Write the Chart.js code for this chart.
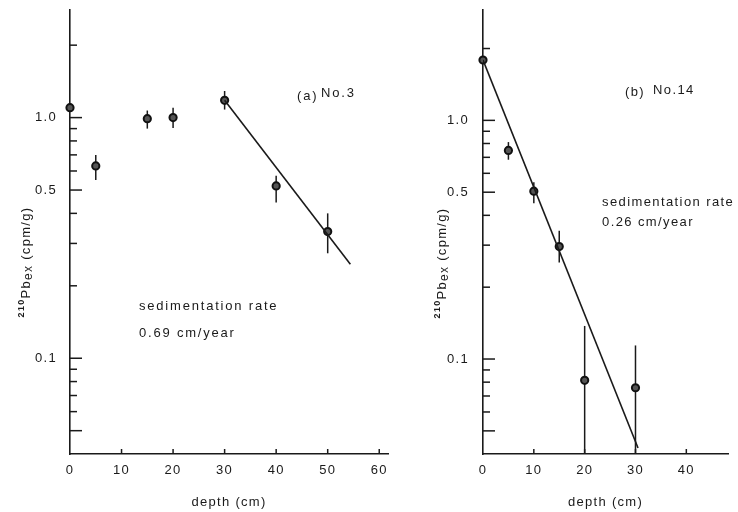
<!DOCTYPE html>
<html><head><meta charset="utf-8">
<script src="https://cdn.jsdelivr.net/npm/chart.js@4"></script>
<style>
html,body{margin:0;padding:0;background:#fff;}
#wrap{position:relative;width:738px;height:512px;overflow:hidden;background:#fff;}
#cA{position:absolute;left:0;top:0;}
#cB{position:absolute;left:420px;top:0;}
</style></head><body>
<div id="wrap"><canvas id="cA" width="420" height="512"></canvas><canvas id="cB" width="318" height="512"></canvas></div>
<script>
// ---- data: panel (a) No.3 ----
const depthA  = [0, 5, 15, 20, 30, 40, 50];
const valueA  = [1.10, 0.63, 0.99, 1.00, 1.18, 0.52, 0.336];
const errHiA  = [null, 0.70, 1.07, 1.10, 1.29, 0.573, 0.40];
const errLoA  = [null, 0.55, 0.90, 0.906, 1.08, 0.444, 0.273];
const fitDepthA = [30, 54.4];
const fitValueA = [1.18, 0.246];
const xTicksA = [0, 10, 20, 30, 40, 50, 60];

// ---- data: panel (b) No.14 ----
const depthB  = [0, 5, 10, 15, 20, 30];
const valueB  = [1.79, 0.748, 0.505, 0.296, 0.0814, 0.0758];
const errHiB  = [null, 0.811, 0.551, 0.345, 0.1376, 0.114];
const errLoB  = [null, 0.684, 0.45, 0.254, 0.04, 0.04];
const fitDepthB = [0, 30.5];
const fitValueB = [1.79, 0.0424];
const xTicksB = [0, 10, 20, 30, 40];

// ---- shared axis ticks ----
const yLabelTicks = [0.1, 0.5, 1.0];
const yLongTicks  = [0.05, 0.1, 0.5, 1.0];
const yShortTicks = [0.06, 0.07, 0.08, 0.09, 0.2, 0.3, 0.4, 0.6, 0.7, 0.8, 0.9, 2];

// ---- texts ----
const xTitle = 'depth (cm)';
const yTitleParts = ['210', 'Pb', 'ex', ' (cpm/g)'];
const labelA = ['(a)', 'No.3'];
const labelB = ['(b)', 'No.14'];
const rateTitle = 'sedimentation rate';
const rateA = '0.69 cm/year';
const rateB = '0.26 cm/year';

const INK = '#1a1a1a';
const FONT = '"Liberation Sans", Arial, Helvetica, sans-serif';
const LS = '1.3px';

function makePanel(canvas, cfg) {
  const decor = {
    id: 'decor',
    beforeDraw(chart) { chart.ctx.letterSpacing = LS; },
    beforeDatasetsDraw(chart) {
      const {ctx, chartArea: ca} = chart;
      const xs = chart.scales.x, ys = chart.scales.y;
      ctx.save();
      ctx.beginPath(); ctx.rect(ca.left, ca.top, ca.right - ca.left, ca.bottom - ca.top + 1); ctx.clip();
      ctx.strokeStyle = INK; ctx.lineWidth = 1.5;
      cfg.depth.forEach((d, i) => {
        if (cfg.errHi[i] == null) return;
        const px = xs.getPixelForValue(d);
        ctx.beginPath();
        ctx.moveTo(px, ys.getPixelForValue(cfg.errHi[i]));
        ctx.lineTo(px, ys.getPixelForValue(cfg.errLo[i]));
        ctx.stroke();
      });
      ctx.restore();
    },
    afterDraw(chart) {
      const {ctx, chartArea: ca} = chart;
      const xs = chart.scales.x, ys = chart.scales.y;
      ctx.save();
      ctx.letterSpacing = LS;
      ctx.strokeStyle = INK; ctx.lineWidth = 1.5;
      // inward x ticks
      cfg.xTicks.forEach(v => {
        if (v === 0) return;
        const px = xs.getPixelForValue(v);
        ctx.beginPath(); ctx.moveTo(px, ca.bottom); ctx.lineTo(px, ca.bottom - 5); ctx.stroke();
      });
      // inward y ticks
      yLongTicks.forEach(v => {
        const py = ys.getPixelForValue(v);
        ctx.beginPath(); ctx.moveTo(ca.left, py); ctx.lineTo(ca.left + 12, py); ctx.stroke();
      });
      yShortTicks.forEach(v => {
        const py = ys.getPixelForValue(v);
        ctx.beginPath(); ctx.moveTo(ca.left, py); ctx.lineTo(ca.left + 7, py); ctx.stroke();
      });
      // y title (rotated, with superscript / subscript)
      ctx.fillStyle = INK;
      ctx.textBaseline = 'alphabetic';
      ctx.textAlign = 'left';
      const fonts = ['bold 9px ' + FONT, '13px ' + FONT, '12px ' + FONT, '13px ' + FONT];
      const shifts = [-6, 0, 2, 0];
      const widths = yTitleParts.map((t, i) => { ctx.font = fonts[i]; return ctx.measureText(t).width; });
      const total = widths.reduce((a, b) => a + b, 0);
      ctx.translate(cfg.yTitleX, cfg.yTitleY);
      ctx.rotate(-Math.PI / 2);
      let x = -total / 2;
      yTitleParts.forEach((t, i) => {
        ctx.font = fonts[i];
        ctx.fillText(t, x, 4 + shifts[i]);
        x += widths[i];
      });
      ctx.setTransform(1, 0, 0, 1, 0, 0);
      // annotations
      ctx.letterSpacing = cfg.noteLS;
      ctx.font = '13px ' + FONT;
      ctx.textBaseline = 'middle';
      ctx.fillText(cfg.label[0], cfg.labelPos[0], cfg.labelPos[1]);
      ctx.fillText(cfg.label[1], cfg.labelPos[2], cfg.labelPos[3]);
      ctx.fillText(rateTitle, cfg.ratePos[0], cfg.ratePos[1]);
      ctx.fillText(cfg.rate, cfg.ratePos[0], cfg.ratePos[2]);
      ctx.restore();
    }
  };

  return new Chart(canvas, {
    type: 'scatter',
    data: {
      datasets: [
        {
          type: 'line',
          data: cfg.fitDepth.map((d, i) => ({x: d, y: cfg.fitValue[i]})),
          borderColor: INK, borderWidth: 1.6, pointRadius: 0, fill: false, tension: 0
        },
        {
          data: cfg.depth.map((d, i) => ({x: d, y: cfg.value[i]})),
          pointRadius: 3.6, pointBackgroundColor: '#555', pointBorderColor: '#111', pointBorderWidth: 2,
          showLine: false, clip: false
        }
      ]
    },
    options: {
      responsive: false, animation: false, devicePixelRatio: 1,
      layout: {padding: {top: 10, right: cfg.padRight, left: 0, bottom: 0}},
      plugins: {legend: {display: false}, tooltip: {enabled: false}},
      scales: {
        x: {
          type: 'linear', min: 0, max: cfg.xMax,
          grid: {display: false, drawTicks: false},
          border: {display: true, color: INK, width: 1.6},
          ticks: {color: INK, font: {family: FONT, size: 13}, padding: 9, maxRotation: 0, autoSkip: false,
                  callback: v => String(v)},
          afterBuildTicks: s => { s.ticks = cfg.xTicks.map(v => ({value: v})); },
          title: {display: true, text: xTitle, color: INK, font: {family: FONT, size: 13}, padding: {top: 0, bottom: 2}},
          afterFit: s => { s.height = 58; s.paddingLeft = 0; s.paddingRight = 0; }
        },
        y: {
          type: 'logarithmic', min: cfg.yMin, max: cfg.yMax,
          grid: {display: false, drawTicks: false},
          border: {display: true, color: INK, width: 1.6},
          ticks: {color: INK, font: {family: FONT, size: 13}, padding: cfg.yPad, autoSkip: false,
                  callback: v => Number(v).toFixed(1)},
          afterBuildTicks: s => { s.ticks = yLabelTicks.map(v => ({value: v})); },
          afterFit: s => { s.width = cfg.yWidth; s.paddingTop = 0; s.paddingBottom = 0; }
        }
      }
    },
    plugins: [decor]
  });
}

makePanel(document.getElementById('cA'), {
  depth: depthA, value: valueA, errHi: errHiA, errLo: errLoA,
  fitDepth: fitDepthA, fitValue: fitValueA, xTicks: xTicksA,
  xMax: 61.7, yMin: 0.04, yMax: 2.8, yWidth: 70, yPad: 13, padRight: 32,
  yTitleX: 26, yTitleY: 262, noteLS: '1.8px',
  label: labelA, labelPos: [297, 96, 321, 93],
  rate: rateA, ratePos: [139, 306, 333]
});

makePanel(document.getElementById('cB'), {
  depth: depthB, value: valueB, errHi: errHiB, errLo: errLoB,
  fitDepth: fitDepthB, fitValue: fitValueB, xTicks: xTicksB,
  xMax: 48.2, yMin: 0.04, yMax: 2.9, yWidth: 63, yPad: 14, padRight: 10,
  yTitleX: 22, yTitleY: 263, noteLS: '1.4px',
  label: labelB, labelPos: [205, 92, 233, 90],
  rate: rateB, ratePos: [182, 202, 222]
});
</script>
</body></html>
